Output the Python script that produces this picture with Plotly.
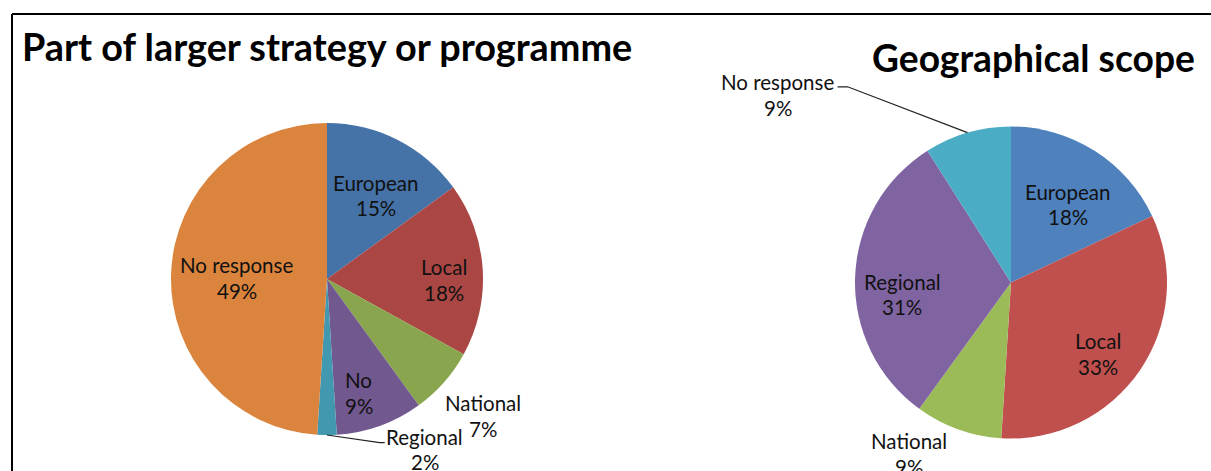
import math
import plotly.graph_objects as go

# ---- data ----
strategy_labels = ["European", "Local", "National", "No", "Regional", "No response"]
strategy_values = [15, 18, 7, 9, 2, 49]

scope_labels = ["European", "Local", "National", "Regional", "No response"]
scope_values = [18, 33, 9, 31, 9]

strategy_title = "Part of larger strategy or programme"
scope_title = "Geographical scope"

# ---- styling ----
W, H = 1211, 471
FONT = "Lato"
TEXT_COLOR = "#111111"
LABEL_SIZE = 20.5
LINE_GAP = 25.5

strategy_colors = ["#4572A7", "#AA4643", "#89A54E", "#71588F", "#4198AF", "#DB843D"]
scope_colors = ["#4F81BD", "#C0504D", "#9BBB59", "#8064A2", "#4BACC6"]

# pie geometry in pixels: centre x, centre y (from top), radius
strategy_geom = (327, 279, 156)
scope_geom = (1011, 282.5, 156)

# label placement: (radius fraction, angle offset from slice middle in degrees)
strategy_label_pos = [(0.62, 3.3), (0.75, 4.1), (1.33, 0.0), (0.76, 4.3), (1.26, -29.8), (0.58, -1.2)]
scope_label_pos = [(0.62, 3.6), (0.72, 5.4), (1.28, 10.9), (0.70, -8.1), (1.92, -35.0)]

# leader lines: slice index -> list of pixel offsets from the label centre
strategy_leaders = {4: [(-45, -7), (-40, -7)]}
scope_leaders = {4: [(70, -8), (60, -8)]}


def domain(geom):
    cx, cy, r = geom
    return dict(x=[(cx - r) / W, (cx + r) / W],
                y=[(H - cy - r) / H, (H - cy + r) / H])


def px(x, y):
    return x / W, 1 - y / H


def mid_angles(values):
    total = float(sum(values))
    out, acc = [], 0.0
    for v in values:
        out.append((acc + v / 2.0) / total * 360.0)
        acc += v
    return out


def polar(geom, angle_deg, rfrac):
    cx, cy, r = geom
    a = math.radians(angle_deg)
    return cx + rfrac * r * math.sin(a), cy - rfrac * r * math.cos(a)


fig = go.Figure()
annotations = []
shapes = []


def add_pie(labels, values, colors, geom, label_pos, leaders):
    fig.add_trace(go.Pie(
        labels=labels, values=values, sort=False, direction="clockwise",
        rotation=0, textinfo="none", hoverinfo="label+percent",
        marker=dict(colors=colors, line=dict(width=0)),
        domain=domain(geom), showlegend=False,
    ))
    total = float(sum(values))
    for i, (lab, val, ang) in enumerate(zip(labels, values, mid_angles(values))):
        rf, da = label_pos[i]
        lx, ly = polar(geom, ang + da, rf)
        pct = "{:.0f}%".format(val / total * 100)
        for txt, yy in ((lab, ly - LINE_GAP / 2), (pct, ly + LINE_GAP / 2)):
            x, y = px(lx, yy)
            annotations.append(dict(
                x=x, y=y, xref="paper", yref="paper", text=txt, showarrow=False,
                xanchor="center", yanchor="middle",
                font=dict(family=FONT, size=LABEL_SIZE, color=TEXT_COLOR),
            ))
        if i in leaders:
            ex, ey = polar(geom, ang, 1.0)
            pts = [(ex, ey)] + [(lx + ox, ly + oy) for ox, oy in leaders[i]]
            path = "M " + " L ".join("{:.4f},{:.4f}".format(*px(a, b)) for a, b in pts)
            shapes.append(dict(type="path", path=path, xref="paper", yref="paper",
                               line=dict(color="#222222", width=1.2)))


add_pie(strategy_labels, strategy_values, strategy_colors, strategy_geom,
        strategy_label_pos, strategy_leaders)
add_pie(scope_labels, scope_values, scope_colors, scope_geom,
        scope_label_pos, scope_leaders)

# chart titles
tx, ty = px(20, 47)
annotations.append(dict(x=tx, y=ty, xref="paper", yref="paper", text="<b>%s</b>" % strategy_title,
                        showarrow=False, xanchor="left", yanchor="middle",
                        font=dict(family=FONT, size=37.8, color="#000000")))
tx, ty = px(1197, 58)
annotations.append(dict(x=tx, y=ty, xref="paper", yref="paper", text="<b>%s</b>" % scope_title,
                        showarrow=False, xanchor="right", yanchor="middle",
                        font=dict(family=FONT, size=37.2, color="#000000")))

# frame around the chart area
x0, y0 = px(12, 14)
shapes.append(dict(type="line", xref="paper", yref="paper", x0=x0, y0=y0, x1=1.01, y1=y0,
                   line=dict(color="#000000", width=2)))
shapes.append(dict(type="line", xref="paper", yref="paper", x0=x0, y0=y0, x1=x0, y1=-0.01,
                   line=dict(color="#000000", width=2)))

fig.update_layout(
    width=W, height=H, margin=dict(l=0, r=0, t=0, b=0),
    paper_bgcolor="white", plot_bgcolor="white",
    annotations=annotations, shapes=shapes,
)

fig.write_html("out.html", config={"displayModeBar": False})
